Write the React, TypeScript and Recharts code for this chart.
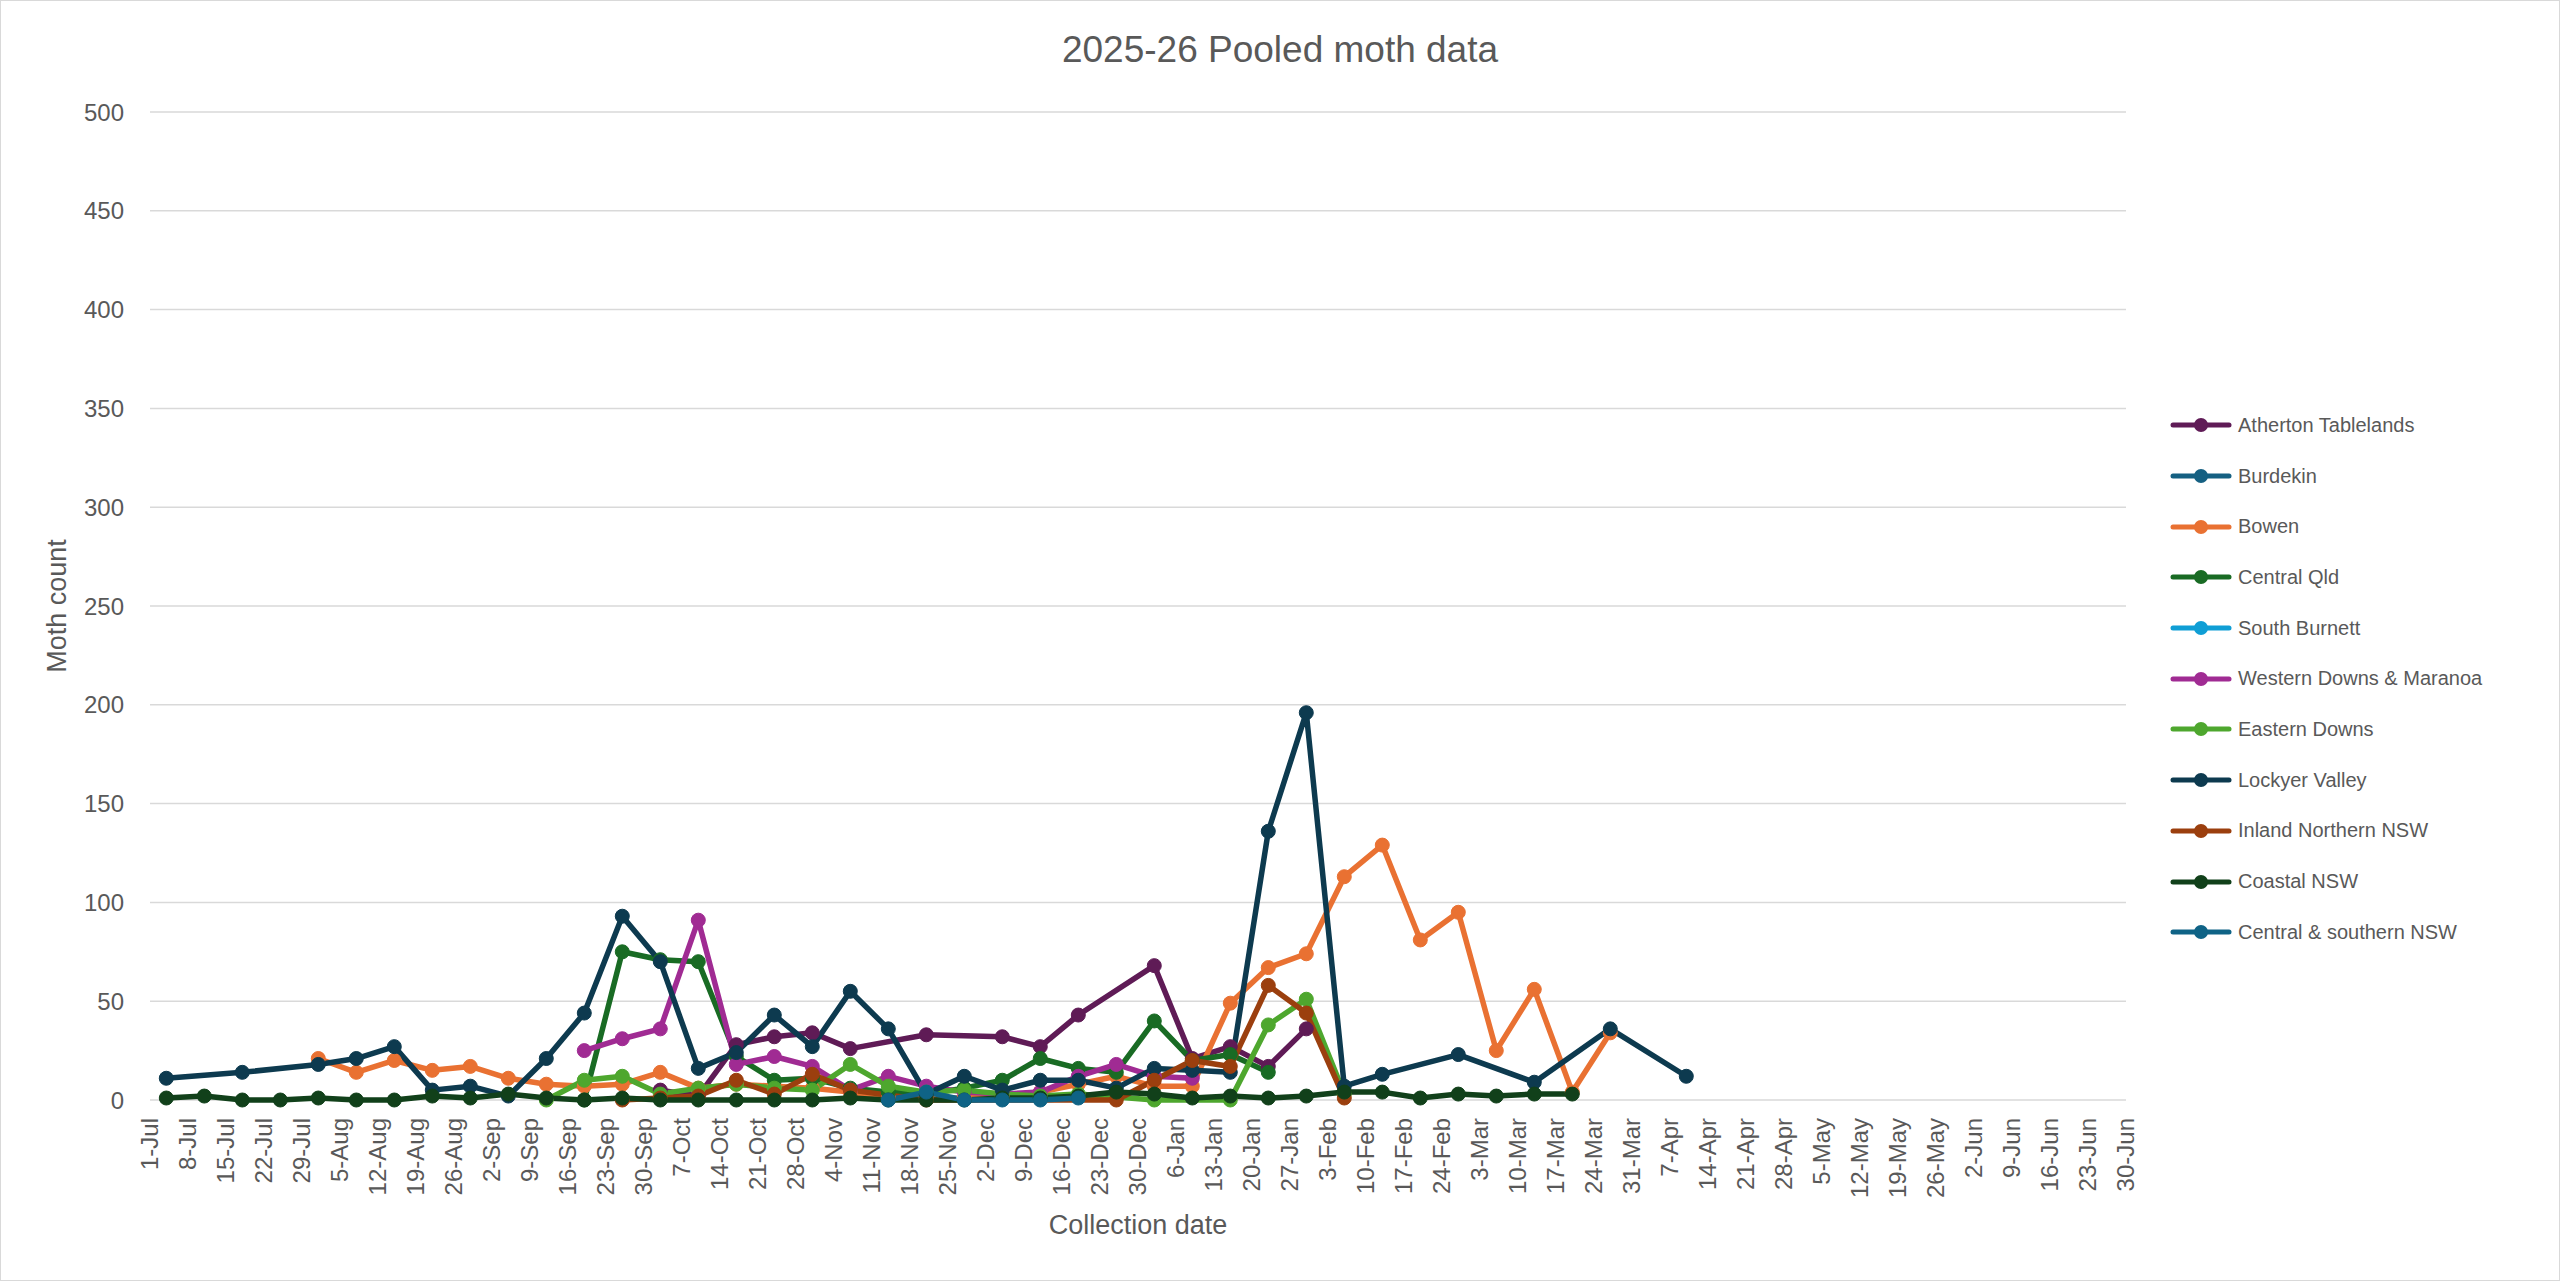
import React from 'react';
import { LineChart, Line, XAxis, YAxis, CartesianGrid, Legend } from 'recharts';

// weekly collection dates (Fridays), 2025-26 season
const collectionDates = [
  '4-Jul', '11-Jul', '18-Jul', '25-Jul', '1-Aug', '8-Aug', '15-Aug', '22-Aug', '29-Aug',
  '5-Sep', '12-Sep', '19-Sep', '26-Sep', '3-Oct', '10-Oct', '17-Oct', '24-Oct', '31-Oct',
  '7-Nov', '14-Nov', '21-Nov', '28-Nov', '5-Dec', '12-Dec', '19-Dec', '26-Dec',
  '2-Jan', '9-Jan', '16-Jan', '23-Jan', '30-Jan', '6-Feb', '13-Feb', '20-Feb', '27-Feb',
  '6-Mar', '13-Mar', '20-Mar', '27-Mar', '3-Apr', '10-Apr',
];

const tickLabels = [
  '1-Jul', '8-Jul', '15-Jul', '22-Jul', '29-Jul', '5-Aug', '12-Aug', '19-Aug', '26-Aug',
  '2-Sep', '9-Sep', '16-Sep', '23-Sep', '30-Sep', '7-Oct', '14-Oct', '21-Oct', '28-Oct',
  '4-Nov', '11-Nov', '18-Nov', '25-Nov', '2-Dec', '9-Dec', '16-Dec', '23-Dec', '30-Dec',
  '6-Jan', '13-Jan', '20-Jan', '27-Jan', '3-Feb', '10-Feb', '17-Feb', '24-Feb',
  '3-Mar', '10-Mar', '17-Mar', '24-Mar', '31-Mar', '7-Apr', '14-Apr', '21-Apr', '28-Apr',
  '5-May', '12-May', '19-May', '26-May', '2-Jun', '9-Jun', '16-Jun', '23-Jun', '30-Jun',
];

const yTicks = [0, 50, 100, 150, 200, 250, 300, 350, 400, 450, 500];

const _ = null;

// moth counts, one entry per collection date (null = no trap reading)
const athertonTablelands = [
  _, _, _, _, _, _, _, _, _, _, _, _, _, 5, 2, 28, 32, 34, 26, _, 33, _, 32, 27, 43, _,
  68, 21, 27, 17, 36, _, _, _, _, _, _, _, _, _, _,
];
const burdekin: (number | null)[] = [];
const bowen = [
  _, _, _, _, 21, 14, 20, 15, 17, 11, 8, 7, 8, 14, 6, 8, 7, 6, 4, 1, 1, 1, 2, 4, 8, 12,
  7, 7, 49, 67, 74, 113, 129, 81, 95, 25, 56, 4, 34, _, _,
];
const centralQld = [
  _, _, _, _, _, _, _, _, _, _, _, 0, 75, 71, 70, 22, 10, 11, 6, 4, 3, 6, 10, 21, 16, 14,
  40, 20, 23, 14, _, _, _, _, _, _, _, _, _, _, _,
];
const southBurnett: (number | null)[] = [];
const westernDowns = [
  _, _, _, _, _, _, _, _, _, _, _, 25, 31, 36, 91, 18, 22, 17, 5, 12, 7, 4, 3, 4, 12, 18,
  12, 11, _, _, _, _, _, _, _, _, _, _, _, _, _,
];
const easternDowns = [
  _, _, _, _, _, _, _, _, _, _, 0, 10, 12, 3, 6, 8, 6, 5, 18, 7, 4, 5, 3, 2, 3, _,
  0, _, 0, 38, 51, 3, _, _, _, _, _, _, _, _, _,
];
const lockyerValley = [
  11, _, 14, _, 18, 21, 27, 5, 7, 2, 21, 44, 93, 70, 16, 24, 43, 27, 55, 36, 3, 12, 5, 10, 10, 6,
  16, 15, 14, 136, 196, 7, 13, _, 23, _, 9, _, 36, _, 12,
];
const inlandNorthernNsw = [
  _, _, _, _, _, _, _, _, _, _, _, _, 0, 1, 2, 10, 3, 13, 5, _, 0, _, _, _, _, 0,
  10, 20, 17, 58, 44, 1, _, _, _, _, _, _, _, _, _,
];
const coastalNsw = [
  1, 2, 0, 0, 1, 0, 0, 2, 1, 3, 1, 0, 1, 0, 0, 0, 0, 0, 1, 0, 0, 0, 1, 1, 2, 4,
  3, 1, 2, 1, 2, 4, 4, 1, 3, 2, 3, 3, _, _, _,
];
const centralSouthernNsw = [
  _, _, _, _, _, _, _, _, _, _, _, _, _, _, _, _, _, _, _, 0, 4, 0, 0, 0, 1, _,
  _, _, _, _, _, _, _, _, _, _, _, _, _, _, _,
];

const series = [
  { key: 'atherton', name: 'Atherton Tablelands', color: '#5F1B56', values: athertonTablelands },
  { key: 'burdekin', name: 'Burdekin', color: '#156082', values: burdekin },
  { key: 'bowen', name: 'Bowen', color: '#E97132', values: bowen },
  { key: 'centralQld', name: 'Central Qld', color: '#196B24', values: centralQld },
  { key: 'southBurnett', name: 'South Burnett', color: '#0F9ED5', values: southBurnett },
  { key: 'westernDowns', name: 'Western Downs & Maranoa', color: '#A02B93', values: westernDowns },
  { key: 'easternDowns', name: 'Eastern Downs', color: '#4EA72E', values: easternDowns },
  { key: 'lockyer', name: 'Lockyer Valley', color: '#0D3A4F', values: lockyerValley },
  { key: 'inlandNsw', name: 'Inland Northern NSW', color: '#9B3F0E', values: inlandNorthernNsw },
  { key: 'coastalNsw', name: 'Coastal NSW', color: '#11401A', values: coastalNsw },
  { key: 'centralSouthernNsw', name: 'Central & southern NSW', color: '#0F6386', values: centralSouthernNsw },
];

// days since 1-Jul of the season
const MONTHS = ['Jul', 'Aug', 'Sep', 'Oct', 'Nov', 'Dec', 'Jan', 'Feb', 'Mar', 'Apr', 'May', 'Jun'];
const MONTH_DAYS = [31, 31, 30, 31, 30, 31, 31, 28, 31, 30, 31, 30];
const toDay = (label: string) => {
  const [d, m] = label.split('-');
  const mi = MONTHS.indexOf(m);
  let total = 0;
  for (let i = 0; i < mi; i++) total += MONTH_DAYS[i];
  return total + Number(d) - 1;
};

const chartData = collectionDates.map((date, i) => {
  const row: Record<string, number | string | null> = { date, day: toDay(date) };
  series.forEach(s => {
    row[s.key] = s.values[i] ?? null;
  });
  return row;
});

const xTicks = tickLabels.map(toDay);
const labelByDay: Record<number, string> = {};
tickLabels.forEach(l => { labelByDay[toDay(l)] = l; });

const FONT = '"Liberation Sans", Arial, sans-serif';
const TEXT = '#595959';

const W = 2558;
const H = 1279;

const XTick = ({ x, y, payload }: any) => (
  <text
    x={x}
    y={y}
    transform={`rotate(-90, ${x}, ${y})`}
    textAnchor="end"
    dy="0.35em"
    fill={TEXT}
    fontSize={24}
    fontFamily={FONT}
  >
    {labelByDay[payload.value]}
  </text>
);

const renderYLabel = () => (
  <text
    x={56}
    y={605}
    transform="rotate(-90, 56, 605)"
    textAnchor="middle"
    dominantBaseline="central"
    fill={TEXT}
    fontSize={27}
    fontFamily={FONT}
  >
    Moth count
  </text>
);

const renderLegend = () => (
  <div style={{ fontFamily: FONT, fontSize: 20, color: TEXT }}>
    {series.map(s => (
      <div key={s.key} style={{ height: 50.7, display: 'flex', alignItems: 'center', whiteSpace: 'nowrap' }}>
        <svg width={62} height={20} style={{ flex: 'none' }}>
          <line x1={3} y1={10} x2={59} y2={10} stroke={s.color} strokeWidth={5} strokeLinecap="round" />
          <circle cx={31} cy={10} r={7} fill={s.color} />
        </svg>
        <span style={{ marginLeft: 6 }}>{s.name}</span>
      </div>
    ))}
  </div>
);

export default function App() {
  return (
    <div
      style={{
        position: 'absolute',
        left: 0,
        top: 0,
        width: 2560,
        height: 1281,
        boxSizing: 'border-box',
        border: '1px solid #D9D9D9',
        background: '#fff',
      }}
    >
      <div
        style={{
          position: 'absolute',
          left: 0,
          top: 0,
          width: W,
          height: 98,
          lineHeight: '98px',
          textAlign: 'center',
          fontFamily: FONT,
          fontSize: 37,
          color: TEXT,
        }}
      >
        2025-26 Pooled moth data
      </div>
      <LineChart
        width={W}
        height={H}
        data={chartData}
        margin={{ top: 111, right: 54, bottom: 0, left: 0 }}
      >
        <CartesianGrid horizontal vertical={false} stroke="#D9D9D9" strokeWidth={1.5} />
        <XAxis
          type="number"
          dataKey="day"
          domain={[0, 364]}
          ticks={xTicks}
          interval={0}
          height={180}
          axisLine={false}
          tickLine={false}
          tickSize={0}
          tickMargin={18}
          tick={<XTick />}
          label={{ value: 'Collection date', position: 'insideBottom', offset: 46, fill: TEXT, fontSize: 27, fontFamily: FONT }}
        />
        <YAxis
          type="number"
          domain={[0, 500]}
          ticks={yTicks}
          interval={0}
          width={149}
          axisLine={false}
          tickLine={false}
          tickSize={0}
          tickMargin={26}
          tick={{ fill: TEXT, fontSize: 24, fontFamily: FONT }}
          label={renderYLabel}
        />
        <Legend
          layout="vertical"
          align="right"
          verticalAlign="middle"
          content={renderLegend}
          wrapperStyle={{ left: 2169, top: 399, width: 379 }}
        />
        {series.map(s => (
          <Line
            key={s.key}
            type="linear"
            dataKey={s.key}
            name={s.name}
            stroke={s.color}
            strokeWidth={5.5}
            strokeLinejoin="round"
            connectNulls
            dot={{ r: 7, fill: s.color, stroke: s.color, strokeWidth: 1 }}
            activeDot={false}
            isAnimationActive={false}
          />
        ))}
      </LineChart>
    </div>
  );
}
